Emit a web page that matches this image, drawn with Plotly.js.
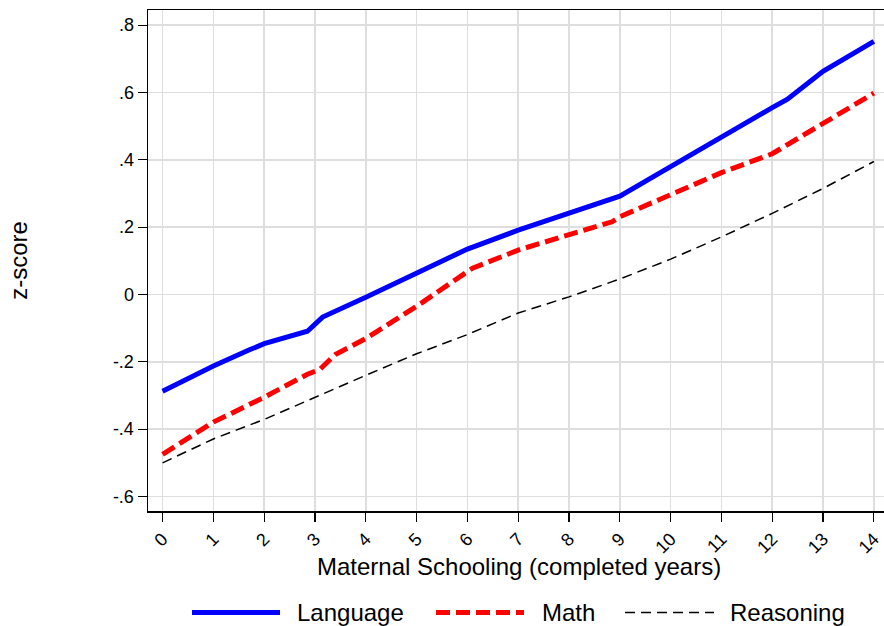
<!DOCTYPE html>
<html><head><meta charset="utf-8">
<script src="https://cdn.plot.ly/plotly-3.0.1.min.js"></script>
<style>html,body{margin:0;padding:0;background:#fff}#c{width:884px;height:626px}</style>
</head><body><div id="c"></div>
<script>
const langX = [0, 1, 1.7, 2, 2.85, 3.15, 4, 5, 6, 7, 8, 8.85, 9, 10, 11, 12, 12.3, 13, 14];
const langY = [-0.287, -0.212, -0.165, -0.146, -0.109, -0.067, -0.008, 0.062, 0.135, 0.191, 0.241, 0.281, 0.292, 0.38, 0.469, 0.555, 0.58, 0.663, 0.752];
const mathX = [0, 1, 2, 2.85, 3.1, 3.4, 4, 5, 6, 6.1, 7, 8, 8.85, 9, 10, 11, 12, 13, 14];
const mathY = [-0.475, -0.379, -0.305, -0.237, -0.222, -0.178, -0.131, -0.035, 0.068, 0.078, 0.132, 0.176, 0.216, 0.231, 0.298, 0.362, 0.418, 0.509, 0.598];
const reasX = [0, 1, 2, 3, 4, 5, 6, 7, 8, 9, 10, 11, 12, 13, 14];
const reasY = [-0.50, -0.429, -0.371, -0.305, -0.24, -0.176, -0.119, -0.055, -0.007, 0.046, 0.105, 0.171, 0.241, 0.315, 0.395];
const seriesNames = ["Language", "Math", "Reasoning"];
const xTickVals = [0,1,2,3,4,5,6,7,8,9,10,11,12,13,14];
const yTickVals = [-0.6, -0.4, -0.2, 0, 0.2, 0.4, 0.6, 0.8];
const yTickText = ["-.6", "-.4", "-.2", "0", ".2", ".4", ".6", ".8"];
const xTitle = "Maternal Schooling (completed years)";
const yTitle = "z-score";

const FONT = "Liberation Sans, Arial, sans-serif";
const styles = [
  {color: "#0000ff", width: 5, dash: "solid"},
  {color: "#ff0000", width: 5, dash: "14px,6px"},
  {color: "#000000", width: 1.5, dash: "10px,6px"}
];
const xs = [langX, mathX, reasX], ys = [langY, mathY, reasY];
const traces = seriesNames.map((n, i) => ({
  x: xs[i], y: ys[i], name: n, type: "scatter", mode: "lines",
  line: {color: styles[i].color, width: styles[i].width, dash: styles[i].dash},
  showlegend: false
}));

// custom legend below the plot (paper coordinates)
const legX = [[192, 280, 295], [436, 524, 540], [625, 714, 728]];
const W = 884, H = 626, ML = 148, MR = 0, MT = 10, MB = 115;
const pw = W - ML - MR, ph = H - MT - MB;
const px = v => (v - ML) / pw;
const py = v => (H - MB - v) / ph;
const shapes = [], annotations = [];
seriesNames.forEach((n, i) => {
  shapes.push({type: "line", xref: "paper", yref: "paper",
    x0: px(legX[i][0]), x1: px(legX[i][1]), y0: py(612.5), y1: py(612.5),
    line: {color: styles[i].color, width: styles[i].width, dash: styles[i].dash}});
  annotations.push({xref: "paper", yref: "paper", x: px(legX[i][2]), y: py(612.5),
    xanchor: "left", yanchor: "middle", showarrow: false, text: n,
    font: {family: FONT, size: 24, color: "#000"}});
});
annotations.push({xref: "paper", yref: "paper", x: px(518.5), y: py(566),
  xanchor: "center", yanchor: "middle", showarrow: false, text: xTitle,
  font: {family: FONT, size: 24, color: "#000"}});

const layout = {
  width: W, height: H,
  margin: {l: ML, r: MR, t: MT, b: MB, pad: 0},
  paper_bgcolor: "#fff", plot_bgcolor: "#fff",
  font: {family: FONT, color: "#000"},
  showlegend: false,
  xaxis: {
    range: [-0.287, 14.2], tickvals: xTickVals, tickangle: -45,
    showgrid: true, gridcolor: "#dedede", gridwidth: 1.5,
    zeroline: false, showline: true, linecolor: "#000", linewidth: 1.5, mirror: true,
    ticks: "outside", ticklen: 9, tickwidth: 1.2, tickcolor: "#000",
    tickfont: {family: FONT, size: 18, color: "#000"}
  },
  yaxis: {
    range: [-0.643, 0.845], tickvals: yTickVals, ticktext: yTickText,
    showgrid: true, gridcolor: "#dedede", gridwidth: 1.5,
    zeroline: false, showline: true, linecolor: "#000", linewidth: 1.5,
    ticks: "outside", ticklen: 9, tickwidth: 1.2, tickcolor: "#000",
    tickfont: {family: FONT, size: 18, color: "#000"},
    title: {text: yTitle, font: {family: FONT, size: 24, color: "#000"}, standoff: 78}
  },
  shapes: shapes, annotations: annotations
};
Plotly.newPlot("c", traces, layout, {displayModeBar: false, staticPlot: true});
</script></body></html>
